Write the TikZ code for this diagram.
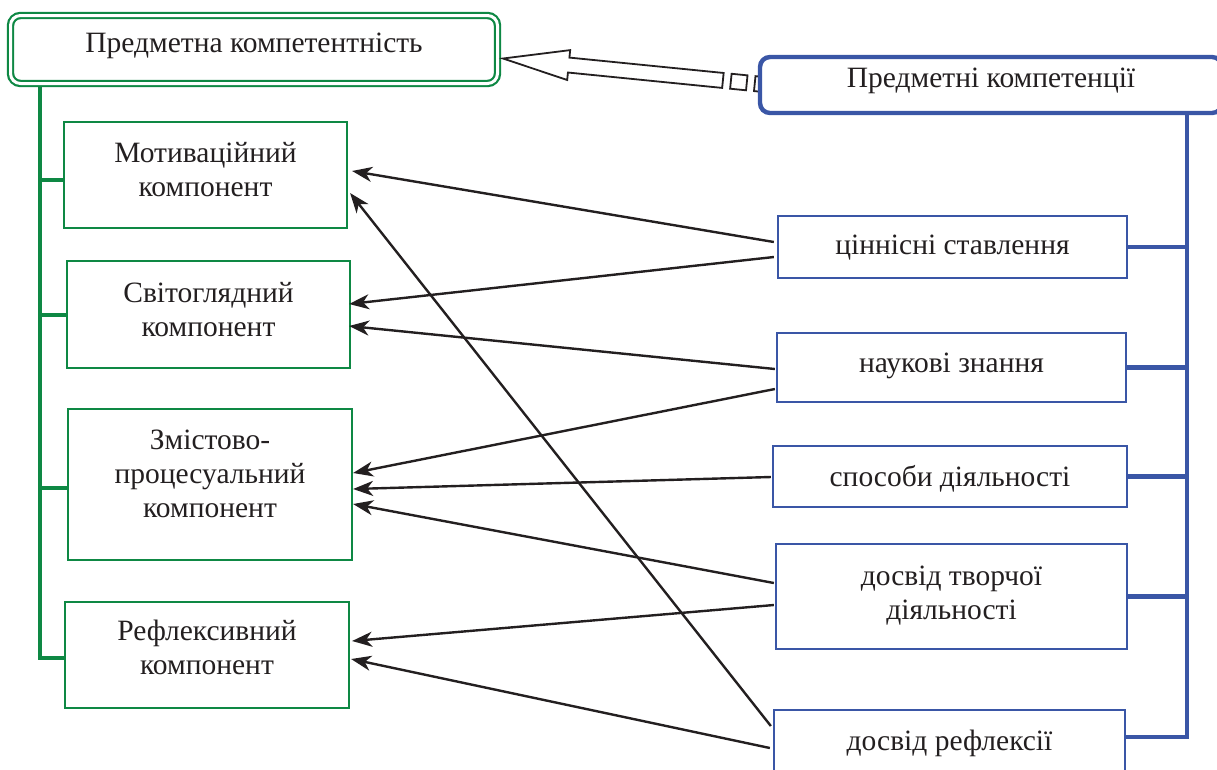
\documentclass[tikz,border=0pt]{standalone}
\usepackage{fontspec}
\setmainfont{Liberation Serif}
\usetikzlibrary{arrows.meta,calc}
\definecolor{gr}{RGB}{14,136,68}
\definecolor{bl}{RGB}{58,86,166}
\definecolor{tx}{RGB}{35,31,32}
\begin{document}
\begin{tikzpicture}[x=1pt,y=-1pt,
  every node/.style={font=\fontsize{29.5}{34}\selectfont, text=tx},
  lbox/.style={draw=gr, line width=2.2pt, minimum width=283pt, align=center, inner sep=0pt},
  rbox/.style={draw=bl, line width=2.3pt, align=center, inner sep=0pt},
  arr/.style={draw=tx, line width=2.4pt, -{Stealth[length=20pt,width=15pt,inset=6pt]}},
  gline/.style={draw=gr, line width=3.6pt},
  bline/.style={draw=bl, line width=4.4pt},
  hollow/.style={draw=tx, line width=1.8pt, fill=white}]
\useasboundingbox (0,0) rectangle (1217,769);

% top left
\node[draw=gr, double=white, double distance=3pt, line width=2.2pt, rounded corners=10pt,
      minimum width=487pt, minimum height=68pt, inner sep=0pt, text depth=13pt] (TL) at (254,49.5) {Предметна компетентність};

% hollow arrow
\coordinate (htip) at (503,58.5);
\begin{scope}[shift={(htip)}, rotate=-5.7]
  \draw[hollow] (0,0) -- (66,-15) -- (66,-7.5) -- (221,-7.5) -- (221,7.5) -- (66,7.5) -- (66,15) -- cycle;
  \draw[hollow] (229,-7.5) rectangle (245,7.5);
  \draw[hollow] (253,-7.5) rectangle (269,7.5);
\end{scope}

% top right
\node[draw=bl, fill=white, line width=4.4pt, rounded corners=10pt, minimum width=462pt, minimum height=56pt,
      inner sep=0pt, text depth=14pt] (TR) at (991,85) {Предметні компетенції};

% left boxes
\node[lbox, minimum height=106pt, text depth=12pt] (L1) at (205.5,175) {Мотиваційний\\компонент};
\node[lbox, minimum height=107pt, text depth=11pt] (L2) at (208.5,314.5) {Світоглядний\\компонент};
\node[lbox, minimum width=284pt, minimum height=151pt, text depth=21pt] (L3) at (210,484.5) {Змістово-\\процесуальний\\компонент};
\node[lbox, minimum width=284pt, minimum height=106pt, text depth=15pt] (L4) at (207,655) {Рефлексивний\\компонент};

% right boxes
\node[rbox, minimum width=349pt, minimum height=62pt, text depth=4pt] (R1) at (952.5,247) {ціннісні ставлення};
\node[rbox, minimum width=349pt, minimum height=69pt, text depth=9pt] (R2) at (951.5,367.5) {наукові знання};
\node[rbox, minimum width=354pt, minimum height=61pt, text depth=2pt] (R3) at (950,476.5) {способи діяльності};
\node[rbox, minimum width=351pt, minimum height=105pt, text depth=7pt] (R4) at (951.5,596.5) {досвід творчої\\діяльності};
\node[rbox, minimum width=351pt, minimum height=64pt, text depth=4pt] (R5) at (949.5,742) {досвід рефлексії};

% green tree
\coordinate (gtop) at (40,87);
\coordinate (g1) at ($(L1.west)+(0,5)$);
\coordinate (g2) at ($(L2.west)+(0,0.5)$);
\coordinate (g3) at ($(L3.west)+(0,3.5)$);
\coordinate (g4) at ($(L4.west)+(0,3)$);
\draw[gline] (gtop) |- (g4);
\draw[gline] (gtop |- g1) -- (g1);
\draw[gline] (gtop |- g2) -- (g2);
\draw[gline] (gtop |- g3) -- (g3);

% blue tree
\coordinate (btop) at (1187,113);
\coordinate (b5) at ($(R5.east)+(0,-5)$);
\draw[bline] (btop) |- (b5);
\draw[bline] (btop |- R1.east) -- (R1.east);
\draw[bline] (btop |- R2.east) -- (R2.east);
\draw[bline] (btop |- R3.east) -- (R3.east);
\draw[bline] (btop |- R4.east) -- (R4.east);

% arrows
\draw[arr] ($(R1.west)+(-3,-5)$) -- ($(L1.east)+(4,-4)$);
\draw[arr] ($(R1.west)+(-3,10)$) -- ($(L2.east)+(-2,-10.5)$);
\draw[arr] ($(R2.west)+(-1,1.5)$) -- ($(L2.east)+(-2,11.5)$);
\draw[arr] ($(R2.west)+(-1,21.5)$) -- ($(L3.east)+(0,-11.5)$);
\draw[arr] ($(R3.west)+(-1,0.5)$) -- ($(L3.east)+(0,4.5)$);
\draw[arr] ($(R4.west)+(-1,-13.5)$) -- ($(L3.east)+(0,19.5)$);
\draw[arr] ($(R4.west)+(-1,8.5)$) -- ($(L4.east)+(2,-14)$);
\draw[arr] ($(R5.west)+(-2,-16)$) -- ($(L1.east)+(2,18)$);
\draw[arr] ($(R5.west)+(-3,6)$) -- ($(L4.east)+(1,4)$);
\end{tikzpicture}
\end{document}
